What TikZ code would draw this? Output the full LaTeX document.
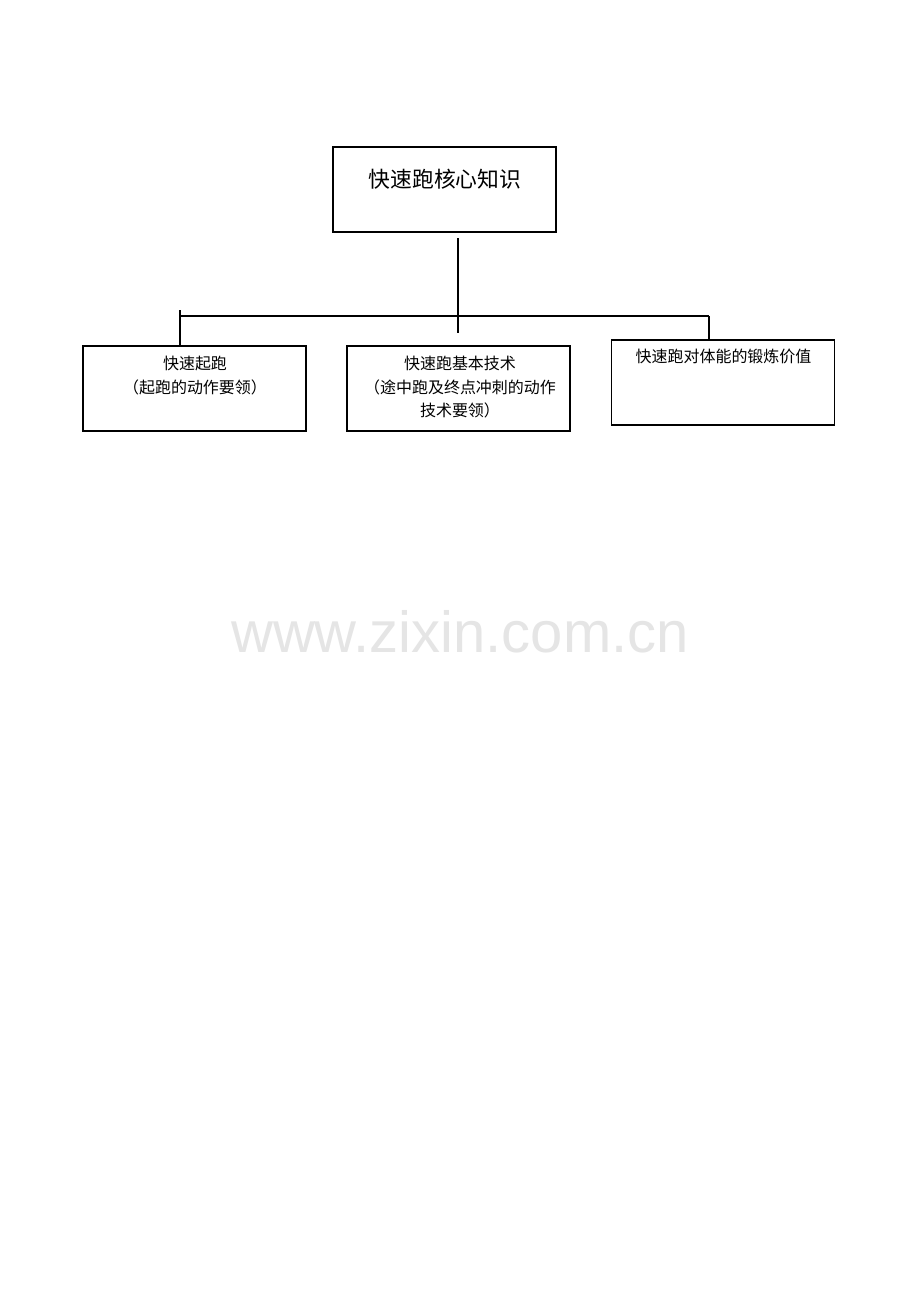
\documentclass[tikz,border=0pt]{standalone}
\usepackage{fontspec}
\setmainfont{Liberation Sans}
\newfontfamily\cjk{Noto Sans CJK SC}
\usetikzlibrary{positioning}
\tikzset{
	chartbox/.style={draw,line width=0.6pt,minimum width=223*0.02cm,minimum height=85*0.02cm,inner sep=0pt},
	boxtext/.style={font=\cjk\fontsize{9.1}{13.4}\selectfont,align=center,inner sep=0pt},
	conn/.style={line width=0.6pt}
}
\begin{document}
\begin{tikzpicture}[x=0.02cm,y=-0.02cm]
	\useasboundingbox[fill=white] (0,0) rectangle (920,1302);
	% boxes
	\node[chartbox] (root) at (444.5,189.5) {};
	\node[chartbox] (start) at (194.5,388.5) {};
	\node[chartbox] (tech) at (458.5,388.5) {};
	\node[chartbox] (value) at (723,382.5) {};
	% texts
	\node[boxtext,font=\cjk\fontsize{12.4}{14}\selectfont] (roott) at (445,179) {快速跑核心知识};
	\node[boxtext,anchor=north] (startt) at (195,356) {快速起跑\\（起跑的动作要领）};
	\node[boxtext,anchor=north] (techt) at (460,356) {快速跑基本技术\\（途中跑及终点冲刺的动作\\技术要领）};
	\node[boxtext,anchor=north] (valuet) at (723.5,349) {快速跑对体能的锻炼价值};
	% connectors
	\coordinate (stemtop) at (458,238);
	\coordinate (stembot) at (458,333);
	\coordinate (barl) at (180,316);
	\coordinate (barr) at (709,316);
	\draw[conn] (stemtop) -- (stembot);
	\draw[conn] (barl) -- (barr);
	\draw[conn] ([yshift=0.12cm]barl) -- (barl |- start.north);
	\draw[conn] (barr) -- (barr |- value.north);
	% watermark
	\node[text=black!10,font=\fontsize{33}{33}\selectfont,anchor=base,inner sep=0pt] (mark) at (460,652) {www.zixin.com.cn};
\end{tikzpicture}
\end{document}
